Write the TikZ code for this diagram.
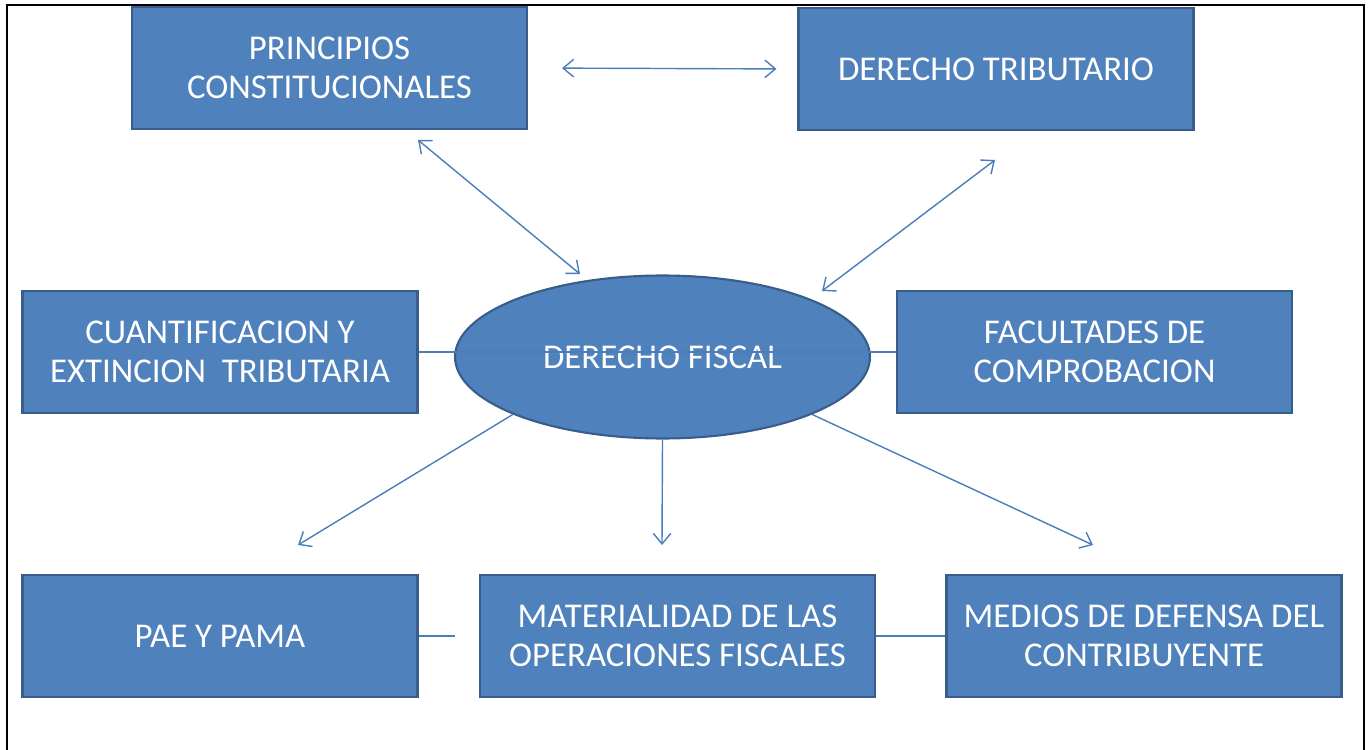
\documentclass[tikz,border=0pt]{standalone}
\usepackage{fontspec}
\setmainfont{Carlito}
\usetikzlibrary{arrows.meta,shapes.geometric}
\definecolor{boxfill}{RGB}{79,129,189}
\definecolor{boxedge}{RGB}{56,93,138}
\definecolor{linkblue}{RGB}{74,126,187}

\begin{document}
\begin{tikzpicture}[x=0.02cm,y=-0.02cm,
  box/.style={rectangle, fill=boxfill, draw=boxedge, line width=1.2pt,
    minimum width=7.9cm, minimum height=2.44cm, text=white, align=center,
    font=\fontsize{19.8}{22.4}\selectfont},
  centro/.style={ellipse, fill=boxfill, draw=boxedge, line width=1.2pt,
    minimum width=8.3cm, minimum height=3.26cm, inner sep=0pt, text=white,
    font=\fontsize{19.8}{22.4}\selectfont},
  link/.style={draw=linkblue, line width=0.8pt},
  both/.style={link, {Straight Barb[length=6pt,width=10pt]}-{Straight Barb[length=6pt,width=10pt]}},
  one/.style={link, -{Straight Barb[length=6pt,width=10pt]}}]
\useasboundingbox (0,0) rectangle (1369,750);
\draw[line width=1.4pt] (7,5) rectangle (1364,770);

% cajas
\node[box] (princ) at (329.5,68) {PRINCIPIOS\\CONSTITUCIONALES};
\node[box] (trib) at (996,69) {DERECHO TRIBUTARIO};
\node[box] (cuant) at (220,352) {CUANTIFICACION Y\\EXTINCION\ \ TRIBUTARIA};
\node[box] (facul) at (1094.5,352) {FACULTADES DE\\COMPROBACION};
\node[box] (pae) at (220,636) {PAE Y PAMA};
\node[box] (mater) at (677.5,636) {MATERIALIDAD DE LAS\\OPERACIONES FISCALES};
\node[box] (medios) at (1144,636) {MEDIOS DE DEFENSA DEL\\CONTRIBUYENTE};
\node[centro] (fiscal) at (662.5,357) {DERECHO FISCAL};

% extremos libres
\coordinate (p1) at (418,140);
\coordinate (p2) at (580,274);
\coordinate (t1) at (995,160);
\coordinate (t2) at (822,291);
\coordinate (a1) at (298,545);
\coordinate (a2) at (662,545);
\coordinate (a3) at (1093,545);
\coordinate (b1) at (455,636);

\draw[both, shorten <=34*0.02cm, shorten >=21*0.02cm] (princ.east) -- (trib.west);
\draw[both] (p1) -- (p2);
\draw[both] (t1) -- (t2);
\draw[link] (cuant.east) -- (facul.west);
\draw[one] (fiscal.-159) -- (a1);
\draw[one] (fiscal.south) -- (a2);
\draw[one] (fiscal.-21) -- (a3);
\draw[link] (pae.east) -- (b1);
\draw[link] (mater.east) -- (medios.west);
\end{tikzpicture}
\end{document}
